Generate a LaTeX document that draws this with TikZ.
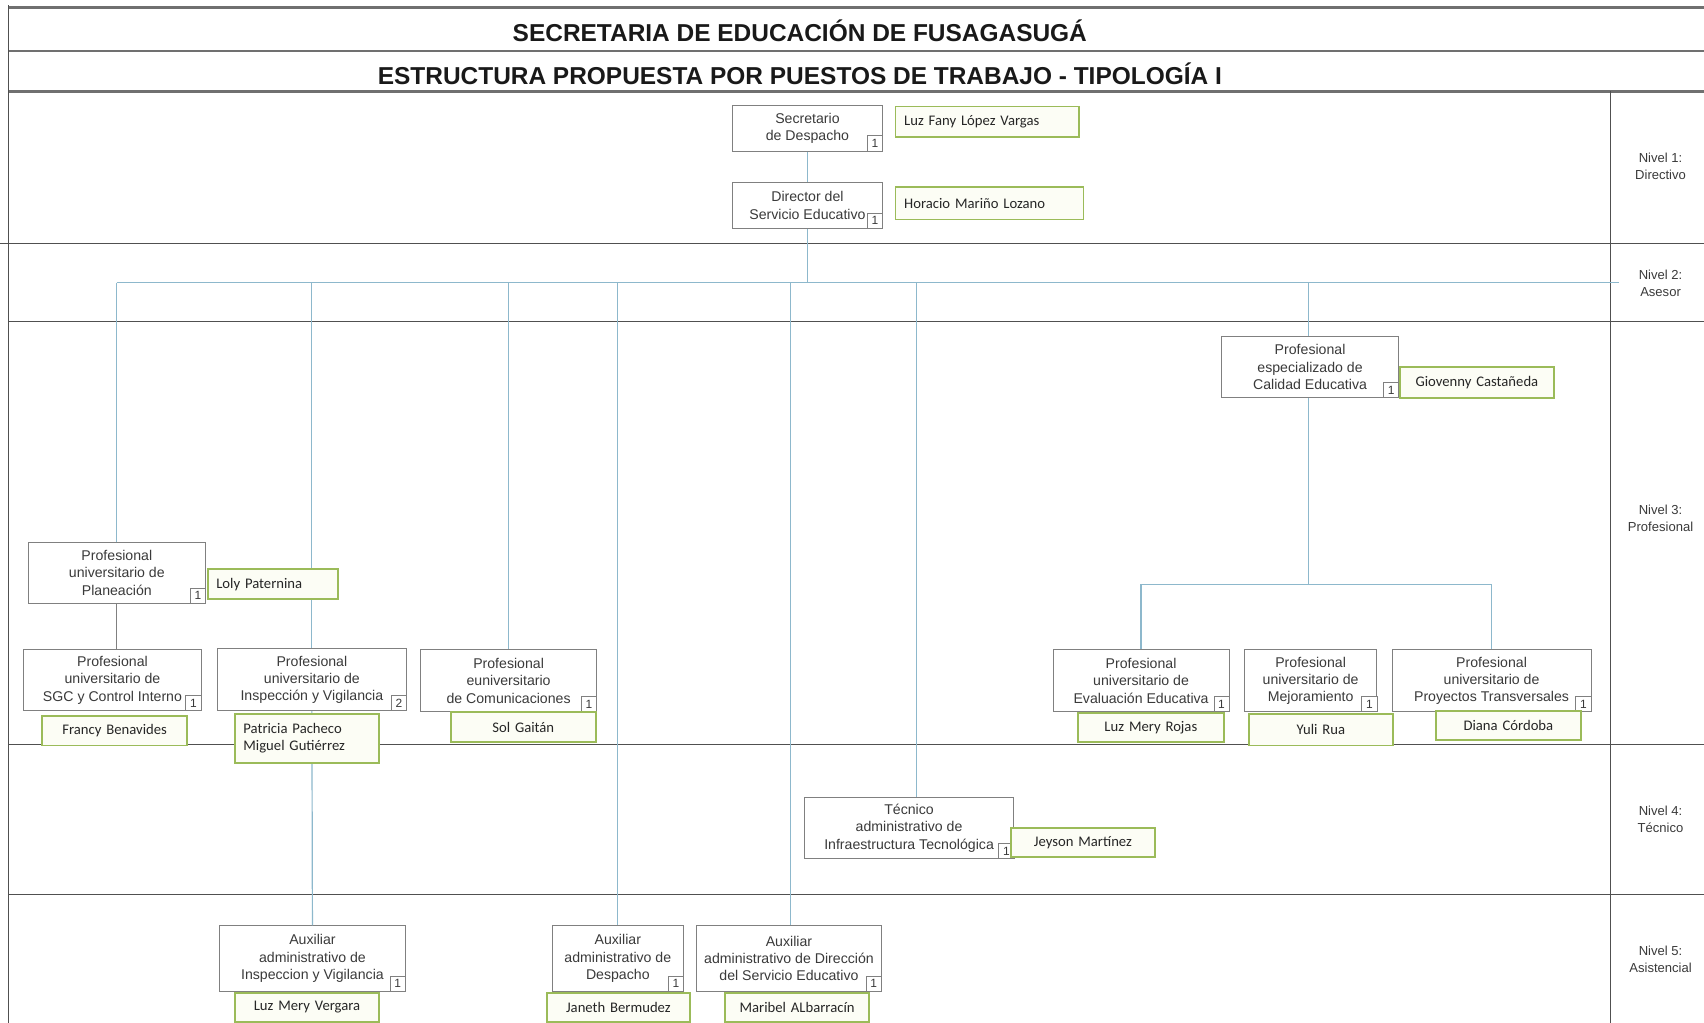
\documentclass[tikz,border=0pt]{standalone}
\usepackage{fontspec}
\setmainfont{Liberation Sans}
\newfontfamily\namefont{Carlito}
\definecolor{boxgray}{HTML}{808080}
\definecolor{textgray}{HTML}{3A3A3A}
\definecolor{namegreen}{HTML}{9BBB59}
\definecolor{namefill}{HTML}{FCFDF5}
\definecolor{linkblue}{HTML}{8DB8CC}
\definecolor{levgray}{HTML}{505050}
\definecolor{titlegray}{HTML}{707070}
\newcommand{\rolefont}{\fontsize{13}{16}\selectfont}
\newcommand{\personfont}{\namefont\fontsize{13.5}{16}\selectfont}
\newcommand{\badgefont}{\fontsize{11}{11}\selectfont}
\newcommand{\badgeon}[2]{\node[badge, anchor=south east] (#1-b) at (#1.south east) {#2};}
\begin{document}
\begin{tikzpicture}[x=1pt,y=-1pt,
  role/.style={draw=boxgray, line width=0.9pt, fill=white, align=center, font=\rolefont, text=textgray, inner sep=0pt},
  person/.style={draw=namegreen, line width=1.8pt, fill=namefill, font=\personfont, text=black!85, inner xsep=8pt, inner ysep=0pt},
  badge/.style={draw=boxgray, line width=0.8pt, fill=white, minimum size=14pt, inner sep=0pt, font=\badgefont, text=textgray},
  link/.style={draw=linkblue, line width=1.1pt},
  glink/.style={draw=boxgray, line width=1pt},
  level/.style={draw=levgray, line width=1.4pt},
  tline/.style={draw=titlegray, line width=2.6pt},
  nivel/.style={align=center, font=\fontsize{12}{16}\selectfont, text=textgray},
  title/.style={font=\bfseries\fontsize{22.5}{26}\selectfont, text=black!90}]
% canvas
\fill[white] (0,0) rectangle (1568,941);
\useasboundingbox (0,0) rectangle (1568,941);
% frame and level lines
\draw[tline] (8,7) -- (1568,7);
\draw[tline] (8,47) -- (1568,47);
\draw[tline] (8,84) -- (1568,84);
\draw[level] (8,5) -- (8,941);
\draw[level] (1482,84) -- (1482,941);
\draw[level] (0,224) -- (1568,224);
\draw[level] (8,296) -- (1568,296);
\draw[level] (8,685) -- (1568,685);
\draw[level] (8,823) -- (1568,823);
% titles
\node[title] (t1) at (736,28) {SECRETARIA DE EDUCACIÓN DE FUSAGASUGÁ};
\node[title] (t2) at (736,68) {ESTRUCTURA PROPUESTA POR PUESTOS DE TRABAJO - TIPOLOGÍA I};
% level labels
\node[nivel] (l1) at (1528,153) {Nivel 1:\\Directivo};
\node[nivel] (l2) at (1528,261) {Nivel 2:\\Asesor};
\node[nivel] (l3) at (1528,477) {Nivel 3:\\Profesional};
\node[nivel] (l4) at (1528,754) {Nivel 4:\\Técnico};
\node[nivel] (l5) at (1528,883) {Nivel 5:\\Asistencial};
% role boxes
\node[role, minimum width=138, minimum height=42] (sec) at (743,118) {Secretario\\de Despacho};
\node[role, minimum width=138, minimum height=42] (dir) at (743,189) {Director del\\Servicio Educativo};
\node[role, minimum width=163, minimum height=56] (plan) at (107.5,527) {Profesional\\universitario de\\Planeación};
\node[role, minimum width=163, minimum height=56] (sgc) at (103.5,626) {Profesional\\universitario de\\SGC y Control Interno};
\node[role, minimum width=174, minimum height=57] (insp) at (287,625.5) {Profesional\\universitario de\\Inspección y Vigilancia};
\node[role, minimum width=162, minimum height=57] (com) at (468,626.5) {Profesional\\euniversitario\\de Comunicaciones};
\node[role, minimum width=163, minimum height=56] (cal) at (1205.5,338) {Profesional\\especializado de\\Calidad Educativa};
\node[role, minimum width=162, minimum height=57] (eva) at (1050,626.5) {Profesional\\universitario de\\Evaluación Educativa};
\node[role, minimum width=122, minimum height=57] (mej) at (1206,626.5) {Profesional\\universitario de\\Mejoramiento};
\node[role, minimum width=183, minimum height=57] (pro) at (1372.5,626.5) {Profesional\\universitario de\\Proyectos Transversales};
\node[role, minimum width=193, minimum height=56] (tec) at (836.5,762) {Técnico\\administrativo de\\Infraestructura Tecnológica};
\node[role, minimum width=171, minimum height=60] (auxi) at (287.5,882) {Auxiliar\\administrativo de\\Inspeccion y Vigilancia};
\node[role, minimum width=121, minimum height=60] (auxd) at (568.5,882) {Auxiliar\\administrativo de\\Despacho};
\node[role, minimum width=170, minimum height=60] (auxs) at (726,882) {Auxiliar\\administrativo de Dirección\\del Servicio Educativo};
% connectors
\coordinate (busL) at (107.5,260);
\coordinate (busR) at (1490,260);
\coordinate (tecx) at (843,0);
\coordinate (auxsx) at (727.5,0);
\coordinate (calj) at (1204,538);
\draw[link] (sec.south) -- (dir.north);
\draw[link] (dir.south) -- (dir.south |- busL);
\draw[link] (busL) -- (busR);
\draw[link] (busL) -- (plan.north);
\draw[link] (insp.north |- busL) -- (insp.north);
\draw[link] (insp.south) -- (auxi.north);
\draw[link] (com.north |- busL) -- (com.north);
\draw[link] (auxd.north |- busL) -- (auxd.north);
\draw[link] (auxsx |- busL) -- (auxsx |- auxs.north);
\draw[link] (tecx |- busL) -- (tecx |- tec.north);
\draw[link] (calj |- busL) -- (calj |- cal.north);
\draw[link] (calj |- cal.south) -- (calj);
\draw[link] (eva.north) -- (eva.north |- calj) -- (pro.north |- calj) -- (pro.north);
\draw[glink] (plan.south) -- (plan.south |- sgc.north);
% badges
\badgeon{sec}{1}
\badgeon{dir}{1}
\badgeon{plan}{1}
\badgeon{sgc}{1}
\badgeon{insp}{2}
\badgeon{com}{1}
\badgeon{cal}{1}
\badgeon{eva}{1}
\badgeon{mej}{1}
\badgeon{pro}{1}
\badgeon{tec}{1}
\badgeon{auxi}{1}
\badgeon{auxd}{1}
\badgeon{auxs}{1}
% person boxes
\node[person, text width=153, minimum height=28, align=left] (nsec) at (908.5,112) {Luz Fany López Vargas};
\node[person, text width=157, minimum height=30, align=left] (ndir) at (910.5,187) {Horacio Mariño Lozano};
\node[person, text width=104, minimum height=27, align=left] (nplan) at (251,537.5) {Loly Paternina};
\node[person, text width=117, minimum height=27, align=center] (nsgc) at (105.5,672.5) {Francy Benavides};
\node[person, text width=117, minimum height=45, align=left] (ninsp) at (282.5,679.5) {Patricia Pacheco\\Miguel Gutiérrez};
\node[person, text width=117, minimum height=28, align=center] (ncom) at (481.5,669) {Sol Gaitán};
\node[person, text width=126, minimum height=28, align=center] (ncal) at (1359,352) {Giovenny Castañeda};
\node[person, text width=118, minimum height=27, align=center] (neva) at (1059,669.5) {Luz Mery Rojas};
\node[person, text width=117, minimum height=29, align=center] (nmej) at (1215.5,671.5) {Yuli Rua};
\node[person, text width=118, minimum height=27, align=center] (npro) at (1388,667.5) {Diana Córdoba};
\node[person, text width=117, minimum height=27, align=center] (ntec) at (996.5,775.5) {Jeyson Martínez};
\node[person, text width=117, minimum height=27, align=center] (nauxi) at (282.5,927) {Luz Mery Vergara};
\node[person, text width=116, minimum height=27, align=center] (nauxd) at (569,927) {Janeth Bermudez};
\node[person, text width=117, minimum height=27, align=center] (nauxs) at (733.5,927) {Maribel ALbarracín};
\end{tikzpicture}
\end{document}
